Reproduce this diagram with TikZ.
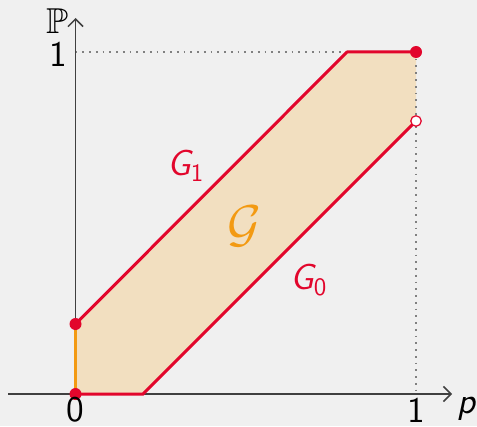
\documentclass[tikz,border=0pt]{standalone}
\usepackage{amsmath,amssymb}
\usetikzlibrary{arrows.meta}
\definecolor{bgc}{HTML}{F0F0F0}
\definecolor{myred}{HTML}{E2062C}
\definecolor{myorange}{HTML}{F39A12}
\definecolor{myfill}{HTML}{F2DFC0}
\begin{document}
\begin{tikzpicture}[x=0.4pt,y=-0.4pt,
  axis/.style={line width=0.6pt,draw=black!75,-{Straight Barb[length=3pt,width=6pt]}},
  guide/.style={gray,dotted,line width=0.7pt},
  redline/.style={myred,line width=1.2pt},
  dotf/.style={circle,fill=myred,inner sep=0pt,minimum size=4.8pt},
  doto/.style={circle,draw=myred,fill=white,line width=0.5pt,inner sep=0pt,minimum size=4.2pt},
  lab/.style={font=\Large\sffamily,inner sep=0.5pt},
  glab/.style={font=\Large,text=myred}]
\fill[bgc] (0,0) rectangle (477,426);
\useasboundingbox (0,0) rectangle (477,426);
% coordinates
\coordinate (O) at (75.5,394);
\coordinate (A) at (75.5,324);
\coordinate (B) at (347,52);
\coordinate (C) at (416,52);
\coordinate (D) at (416,121);
\coordinate (E) at (143,394);
\coordinate (Y1) at (75.5,52);
\coordinate (X1) at (416,394);
% fill
\fill[myfill] (O) -- (A) -- (B) -- (C) -- (D) -- (E) -- cycle;
% guides
\draw[guide] (Y1) -- (C);
\draw[guide] (C) -- (X1);
% axes
\coordinate (xs) at (8,394);
\coordinate (xe) at (452,394);
\coordinate (ye) at (75.5,18);
\draw[axis] (xs) -- (xe);
\draw[axis] (O) -- (ye);
% boundary
\draw[myorange,line width=1.2pt] (O) -- (A);
\draw[redline,line join=round] (A) -- (B) -- (C);
\draw[redline] (O) -- (E) -- (D);
% dots
\node[dotf] (pA) at (A) {};
\node[dotf] (pO) at (O) {};
\node[dotf] (pC) at (C) {};
\node[doto] (pD) at (D) {};
% labels
\node[font=\Large] (lP) at (57,21) {$\mathbb{P}$};
\node[lab] (l1y) at (58,54) {1};
\node[lab] (l0x) at (75.5,410) {0};
\node[lab] (l1x) at (416,410) {1};
\node[lab] (lp) at (467,409) {\itshape p};
\node[glab] (lG1) at (186,166) {{\sffamily\itshape G}\textsubscript{\sffamily 1}};
\node[glab] (lG0) at (309,280) {{\sffamily\itshape G}\textsubscript{\sffamily 0}};
\node[font=\huge,text=myorange] (lG) at (244,226) {$\mathcal{G}$};
\end{tikzpicture}
\end{document}
